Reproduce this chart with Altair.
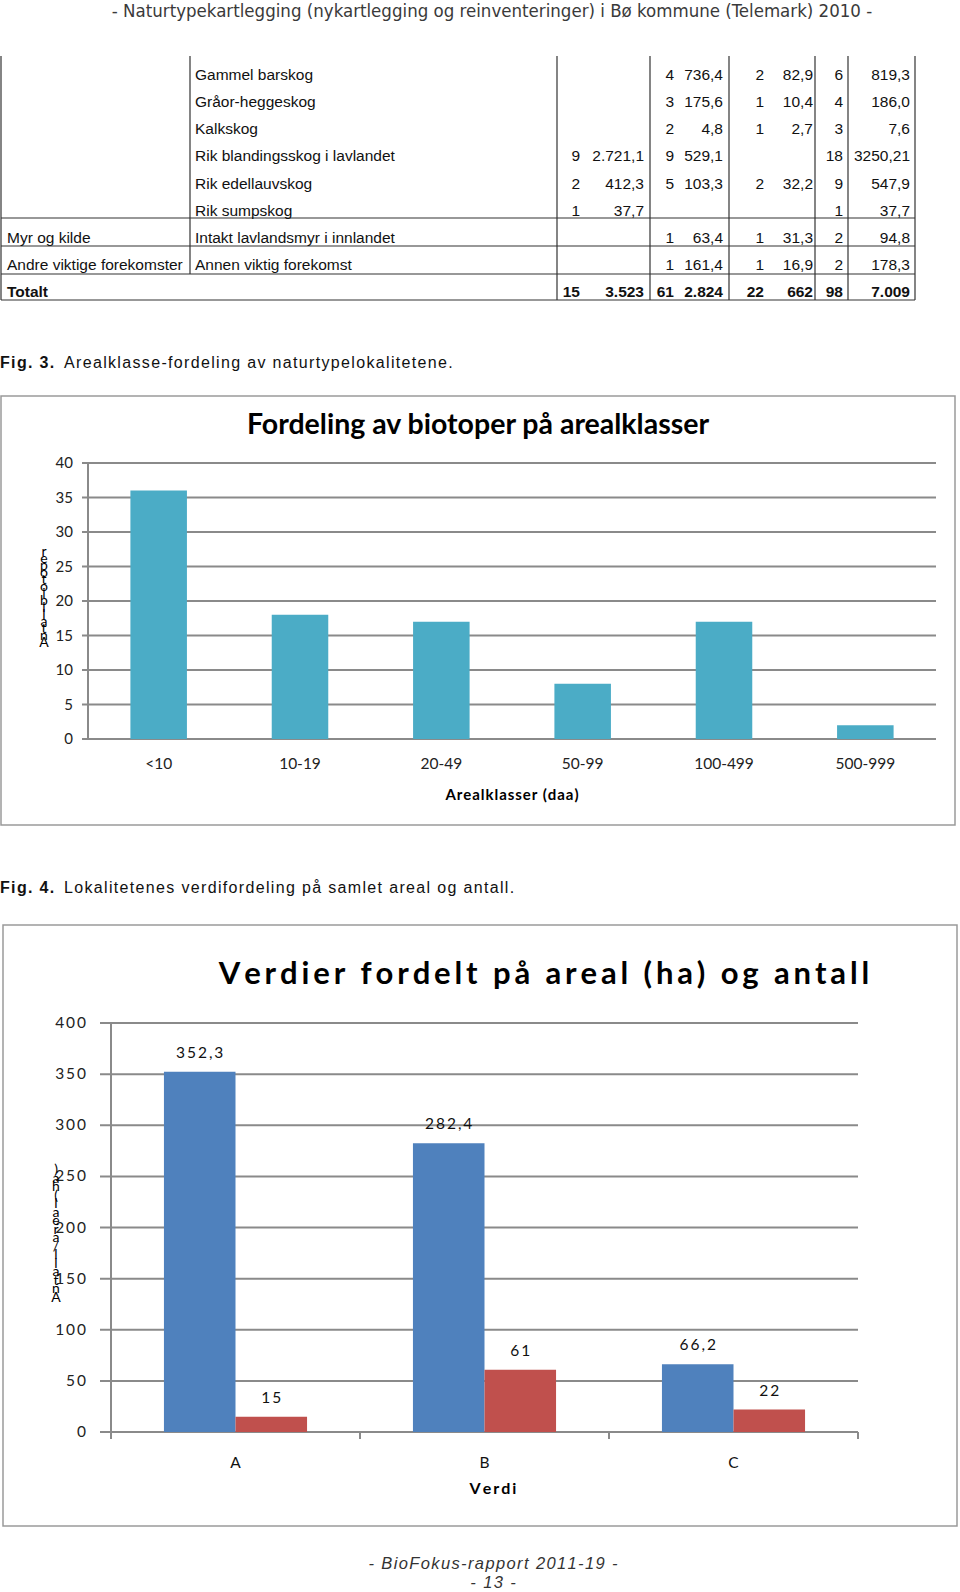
import altair as alt
import pandas as pd

# ---------------- page texts ----------------
header_text = "- Naturtypekartlegging (nykartlegging og reinventeringer) i Bø kommune (Telemark) 2010 -"
fig3_label = "Fig. 3."
fig3_text = "Arealklasse-fordeling av naturtypelokalitetene."
fig4_label = "Fig. 4."
fig4_text = "Lokalitetenes verdifordeling på samlet areal og antall."
footer_lines = ["- BioFokus-rapport 2011-19 -", "- 13 -"]

# ---------------- table (continued from previous page) ----------------
row_group = ["", "", "", "", "", "", "Myr og kilde", "Andre viktige forekomster", "Totalt"]
row_type = ["Gammel barskog", "Gråor-heggeskog", "Kalkskog", "Rik blandingsskog i lavlandet",
            "Rik edellauvskog", "Rik sumpskog", "Intakt lavlandsmyr i innlandet",
            "Annen viktig forekomst", ""]
a_n = ["", "", "", "9", "2", "1", "", "", "15"]
a_areal = ["", "", "", "2.721,1", "412,3", "37,7", "", "", "3.523"]
b_n = ["4", "3", "2", "9", "5", "", "1", "1", "61"]
b_areal = ["736,4", "175,6", "4,8", "529,1", "103,3", "", "63,4", "161,4", "2.824"]
c_n = ["2", "1", "1", "", "2", "", "1", "1", "22"]
c_areal = ["82,9", "10,4", "2,7", "", "32,2", "", "31,3", "16,9", "662"]
tot_n = ["6", "4", "3", "18", "9", "1", "2", "2", "98"]
tot_areal = ["819,3", "186,0", "7,6", "3250,21", "547,9", "37,7", "94,8", "178,3", "7.009"]

# ---------------- chart 1 ----------------
chart1_title = "Fordeling av biotoper på arealklasser"
area_classes = ["<10", "10-19", "20-49", "50-99", "100-499", "500-999"]
area_counts = [36, 18, 17, 8, 17, 2]
chart1_ticks = [0, 5, 10, 15, 20, 25, 30, 35, 40]
chart1_xtitle = "Arealklasser (daa)"
chart1_ytitle = "Antall biotoper"

# ---------------- chart 2 ----------------
chart2_title = "Verdier fordelt på areal (ha) og antall"
value_classes = ["A", "B", "C"]
areal_ha = [352.3, 282.4, 66.2]
antall = [15, 61, 22]
series_names = ["areal", "antall"]
chart2_ticks = [0, 50, 100, 150, 200, 250, 300, 350, 400]
chart2_xtitle = "Verdi"
chart2_ytitle = "Antall/areal (ha)"

# ---------------- helpers ----------------
HAIR = "\u200a"
THIN = "\u2009"
ARIAL = "Liberation Sans, Arial, sans-serif"
NARROW = "Liberation Sans Narrow, DejaVu Sans Condensed, Liberation Sans"
CAL = "Lato, Open Sans, sans-serif"
GRID = "#8a8a8a"
BOX = "#9a9a9a"


def spaced(s, sep=HAIR):
    return sep.join(list(s))


def fmt(v):
    if float(v) == int(v):
        return str(int(v))
    return f"{v:.1f}".replace(".", ",")


dummy = pd.DataFrame({"d": [0]})


def vline(x, y1, y2, color="#333333", w=1.2):
    return alt.Chart(dummy).mark_rule(color=color, strokeWidth=w).encode(
        x=alt.value(x), y=alt.value(y1), y2=alt.value(y2))


def hline(x1, x2, y, color="#333333", w=1.2):
    return alt.Chart(dummy).mark_rule(color=color, strokeWidth=w).encode(
        x=alt.value(x1), x2=alt.value(x2), y=alt.value(y))


def label(text, x, y, size, font, weight="normal", align="left", style="normal",
          color="#111111", line_height=None, baseline="middle"):
    kw = dict(text=text, align=align, baseline=baseline, fontSize=size, font=font,
              fontWeight=weight, fontStyle=style, color=color)
    if line_height is not None:
        kw["lineHeight"] = line_height
    return alt.Chart(dummy).mark_text(**kw).encode(x=alt.value(x), y=alt.value(y))


def box(x1, x2, y1, y2):
    return alt.Chart(dummy).mark_rect(fill="white", stroke=BOX, strokeWidth=1.5).encode(
        x=alt.value(x1), x2=alt.value(x2), y=alt.value(y1), y2=alt.value(y2))


layers = []

# ---------------- header ----------------
layers.append(label(header_text, 492, 11, 18.5, NARROW, align="center", color="#3a3a3a"))

# ---------------- table ----------------
tbl = pd.DataFrame({
    "row": list(range(len(row_type))), "group": row_group, "type": row_type,
    "a_n": a_n, "a_areal": a_areal, "b_n": b_n, "b_areal": b_areal,
    "c_n": c_n, "c_areal": c_areal, "tot_n": tot_n, "tot_areal": tot_areal,
})
rows = list(range(len(row_type)))
row_y = alt.Y("row:O", scale=alt.Scale(type="point", domain=rows, range=[75, 292], padding=0),
              axis=None)

for x in [1, 557, 650, 729, 815, 848, 915]:
    layers.append(vline(x, 56, 300))
layers.append(vline(190, 56, 274))
for y in [218, 246, 274, 300]:
    layers.append(hline(1, 915, y))

table_cols = [("group", 7, "left"), ("type", 195, "left"),
              ("a_n", 580, "right"), ("a_areal", 644, "right"),
              ("b_n", 674, "right"), ("b_areal", 723, "right"),
              ("c_n", 764, "right"), ("c_areal", 813, "right"),
              ("tot_n", 843, "right"), ("tot_areal", 910, "right")]
last = len(rows) - 1
for field, x, al in table_cols:
    for bold in (False, True):
        cond = f"datum.row == {last}" if bold else f"datum.row < {last}"
        layers.append(
            alt.Chart(tbl).transform_filter(cond).mark_text(
                align=al, baseline="middle", font=ARIAL, fontSize=15.5,
                fontWeight="bold" if bold else "normal", color="#111111"
            ).encode(x=alt.value(x), y=row_y, text=f"{field}:N")
        )

# ---------------- Fig. 3 caption ----------------
layers.append(label(spaced(fig3_label), 0, 363, 16, ARIAL, weight="bold"))
layers.append(label(spaced(fig3_text), 64, 363, 16, ARIAL))

# ---------------- chart 1 ----------------
layers.append(box(1, 955, 396, 825))
layers.append(label(chart1_title, 478, 425, 28.5, CAL, weight="bold", align="center", color="#000000"))

c1 = pd.DataFrame({"klasse": area_classes, "antall": area_counts})
t1 = pd.DataFrame({"v": chart1_ticks})
y1_scale = alt.Scale(domain=[0, 40], range=[739, 463], nice=False, zero=True)
x1 = alt.X("klasse:N", sort=area_classes,
           scale=alt.Scale(domain=area_classes, range=[88, 936], paddingInner=0.6, paddingOuter=0.3),
           axis=None)

layers.append(alt.Chart(t1).mark_rule(color=GRID, strokeWidth=2).encode(
    y=alt.Y("v:Q", scale=y1_scale, axis=None), x=alt.value(82), x2=alt.value(936)))
layers.append(vline(88, 463, 739, color=GRID, w=2))
layers.append(alt.Chart(t1).mark_text(align="right", baseline="middle", font=CAL, fontSize=15,
                                      color="#222222").encode(
    y=alt.Y("v:Q", scale=y1_scale, axis=None), x=alt.value(73), text="v:Q"))
layers.append(alt.Chart(c1).mark_bar(color="#4BACC6").encode(
    x=x1, y=alt.Y("antall:Q", scale=y1_scale, axis=None)))
layers.append(alt.Chart(c1).mark_text(baseline="middle", font=CAL, fontSize=15.5,
                                      color="#222222").encode(
    x=x1, y=alt.value(764), text="klasse:N"))
layers.append(label(spaced(chart1_xtitle), 512, 795, 15, CAL, weight="bold", align="center",
                    color="#000000"))
layers.append(label(list(reversed(list(chart1_ytitle))), 44, 552, 14, CAL, align="center",
                    color="#000000", line_height=7))

# ---------------- Fig. 4 caption ----------------
layers.append(label(spaced(fig4_label), 0, 888, 16, ARIAL, weight="bold"))
layers.append(label(spaced(fig4_text), 64, 888, 16, ARIAL))

# ---------------- chart 2 ----------------
layers.append(box(3, 957, 925, 1526))
layers.append(label(spaced(chart2_title, THIN), 544, 975, 31, CAL, weight="bold", align="center",
                    color="#000000"))

rows2 = []
for v, a, n in zip(value_classes, areal_ha, antall):
    rows2.append({"verdi": v, "serie": series_names[0], "verdi_tall": a, "lab": spaced(fmt(a), THIN)})
    rows2.append({"verdi": v, "serie": series_names[1], "verdi_tall": n, "lab": spaced(fmt(n), THIN)})
c2 = pd.DataFrame(rows2)
t2 = pd.DataFrame({"v": chart2_ticks, "lab": [spaced(str(t), THIN) for t in chart2_ticks]})
cats2 = pd.DataFrame({"verdi": value_classes})

y2_scale = alt.Scale(domain=[0, 400], range=[1432, 1023], nice=False, zero=True)
x2_scale = alt.Scale(domain=value_classes, range=[111, 858], paddingInner=0, paddingOuter=0)
x2 = alt.X("verdi:N", sort=value_classes, scale=x2_scale, axis=None)
xo2 = alt.XOffset("serie:N", sort=series_names,
                  scale=alt.Scale(domain=series_names, paddingInner=0, paddingOuter=0.74))

layers.append(alt.Chart(t2).mark_rule(color=GRID, strokeWidth=2).encode(
    y=alt.Y("v:Q", scale=y2_scale, axis=None), x=alt.value(100), x2=alt.value(858)))
layers.append(vline(111, 1023, 1439, color=GRID, w=2))
layers.append(alt.Chart(cats2).mark_rule(color=GRID, strokeWidth=2).encode(
    x=alt.X("verdi:N", sort=value_classes, scale=x2_scale, axis=None, bandPosition=0),
    y=alt.value(1432), y2=alt.value(1439)))
layers.append(alt.Chart(cats2).transform_filter(f"datum.verdi == '{value_classes[-1]}'").mark_rule(
    color=GRID, strokeWidth=2).encode(
    x=alt.X("verdi:N", sort=value_classes, scale=x2_scale, axis=None, bandPosition=1),
    y=alt.value(1432), y2=alt.value(1439)))
layers.append(alt.Chart(t2).mark_text(align="right", baseline="middle", font=CAL, fontSize=15.5,
                                      color="#222222").encode(
    y=alt.Y("v:Q", scale=y2_scale, axis=None), x=alt.value(86), text="lab:N"))
layers.append(alt.Chart(c2).mark_bar().encode(
    x=x2, xOffset=xo2, y=alt.Y("verdi_tall:Q", scale=y2_scale, axis=None),
    color=alt.Color("serie:N", sort=series_names,
                    scale=alt.Scale(domain=series_names, range=["#4F81BD", "#C0504D"]),
                    legend=None)))
layers.append(alt.Chart(c2).mark_text(baseline="middle", font=CAL, fontSize=15.5, dy=-19,
                                      color="#111111").encode(
    x=x2, xOffset=xo2, y=alt.Y("verdi_tall:Q", scale=y2_scale, axis=None), text="lab:N"))
layers.append(alt.Chart(cats2).mark_text(baseline="middle", font=CAL, fontSize=15.5,
                                         color="#111111").encode(
    x=x2, y=alt.value(1463), text="verdi:N"))
layers.append(label(spaced(chart2_xtitle, THIN), 493, 1489, 16, CAL, weight="bold",
                    align="center", color="#000000"))
layers.append(label(list(reversed(list(chart2_ytitle))), 56, 1170, 14, CAL, align="center",
                    color="#000000", line_height=8.5))

# ---------------- footer ----------------
layers.append(label(spaced(footer_lines[0]), 493, 1564, 16.5, ARIAL, style="italic", align="center",
                    color="#333333"))
layers.append(label(spaced(footer_lines[1]), 493, 1583, 16.5, ARIAL, style="italic", align="center",
                    color="#333333"))

chart = alt.layer(*layers).resolve_scale(
    x="independent", y="independent", color="independent"
).properties(
    width=960, height=1592,
    autosize=alt.AutoSizeParams(type="none"),
    padding=0, background="white",
).configure_view(stroke=None)

chart.save("out.html", embed_options={"renderer": "svg", "actions": False})
